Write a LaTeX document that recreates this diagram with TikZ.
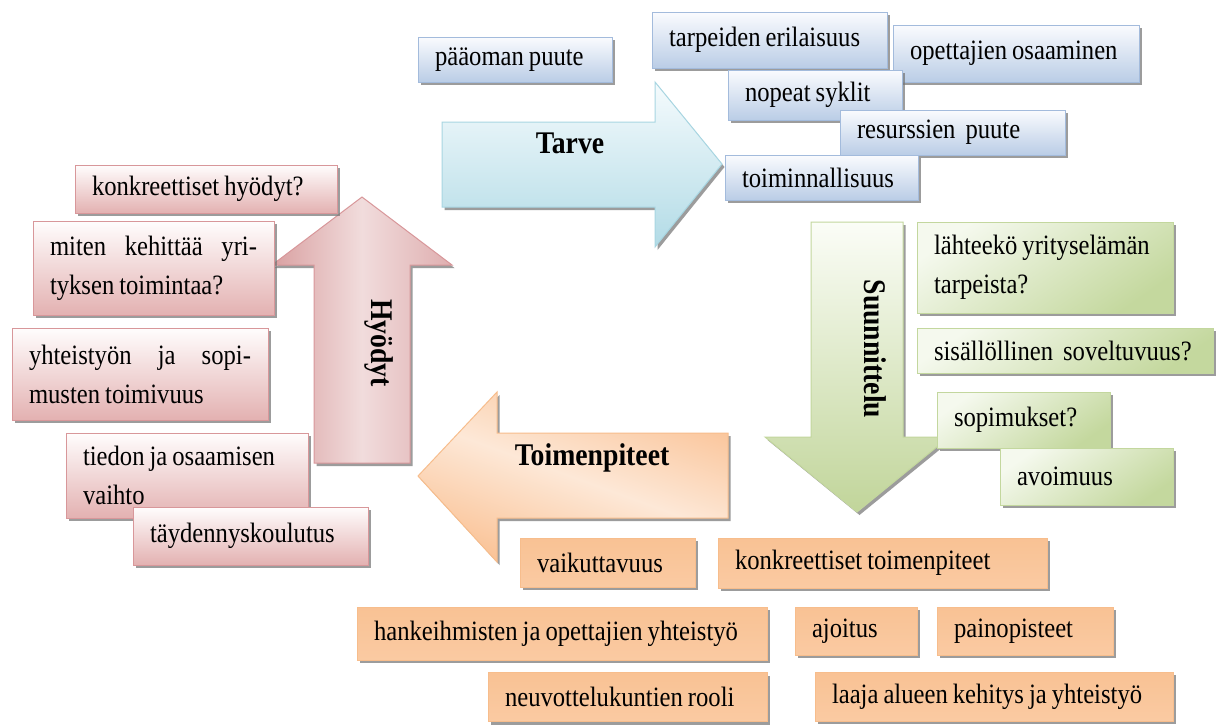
\documentclass[tikz,border=0pt]{standalone}
\usepackage{fontspec}
\setmainfont[FakeStretch=0.88]{Liberation Serif}
\usetikzlibrary{shadows}

% palette
\definecolor{bEdge}{HTML}{A3BBDC}
\definecolor{bHigh}{HTML}{FAFBFE}
\definecolor{bLow}{HTML}{BACDE6}
\definecolor{gEdge}{HTML}{C3D79E}
\definecolor{gHigh}{HTML}{F5F9EE}
\definecolor{gLow}{HTML}{C4D89E}
\definecolor{pEdge}{HTML}{D8979A}
\definecolor{pHigh}{HTML}{FFFDFD}
\definecolor{pLow}{HTML}{E3B1B1}
\definecolor{oEdge}{HTML}{F7BD8C}
\definecolor{oDeep}{HTML}{F9C294}
\definecolor{oLight}{HTML}{FDEADB}
\definecolor{abEdge}{HTML}{A8D6E2}
\definecolor{abHigh}{HTML}{F5FBFD}
\definecolor{abLow}{HTML}{B2DBE6}
\definecolor{agHigh}{HTML}{FBFDF7}
\definecolor{agLow}{HTML}{C1D59A}
\definecolor{apDark}{HTML}{D9A0A1}
\definecolor{apLight}{HTML}{F1DCDC}
\definecolor{aoDeep}{HTML}{FAC397}
\definecolor{aoLight}{HTML}{FDE8D7}

\tikzset{
  every node/.style={font=\fontsize{28}{39}\selectfont},
  boxshadow/.style={drop shadow={shadow xshift=2.5pt, shadow yshift=-3pt,
      fill=black!55, opacity=0.7}},
  cbox/.style={boxshadow, line width=1pt, inner xsep=17pt, inner ysep=2pt,
      align=left,
      % tighter word spacing than the ragged-right default
      execute at begin node={\spaceskip=5pt plus 2pt minus 1pt\relax}},
  bluebox/.style={cbox, draw=bEdge, top color=bHigh, bottom color=bLow},
  greenbox/.style={cbox, draw=gEdge, top color=gHigh, bottom color=gLow,
      shading angle=35},
  pinkbox/.style={cbox, draw=pEdge, top color=pHigh, bottom color=pLow},
  orangebox/.style={cbox, draw=oEdge, top color=oDeep, middle color=oLight,
      bottom color=oDeep!80!oLight},
  arrowbase/.style={boxshadow, line width=1pt},
  heading/.style={font=\fontsize{31.5}{36}\selectfont\bfseries},
}

\begin{document}
\begin{tikzpicture}[x=1pt, y=-1pt]
\useasboundingbox[fill=white] (0,0) rectangle (1220,724);

% --- the four big arrows of the cycle ---
\path[arrowbase, draw=abEdge, top color=abHigh, bottom color=abLow]
  (442,122) -- (655,122) -- (655,82) -- (722,164) -- (655,247)
  -- (655,207) -- (442,207) -- cycle;
\path[arrowbase, draw=gEdge, top color=agHigh, bottom color=agLow]
  (811,222) -- (903,222) -- (903,437) -- (949,437) -- (857,512)
  -- (765,437) -- (811,437) -- cycle;
\path[arrowbase, draw=oEdge, top color=aoDeep, bottom color=aoDeep,
      middle color=aoLight, shading angle=-20]
  (728,433) -- (497,433) -- (497,392) -- (418,476) -- (497,562)
  -- (497,518) -- (728,518) -- cycle;
\path[arrowbase, draw=pEdge, left color=apDark, right color=apDark!85,
      middle color=apLight]
  (314,463) -- (314,265) -- (272,265) -- (362,197) -- (452,265)
  -- (410,265) -- (410,463) -- cycle;

\node[heading] (tarve) at (570,143) {Tarve};
\node[heading] (toimenpiteet) at (592,458) {Toimenpiteet};
\node[heading, rotate=-90] (suunnittelu) at (875,349) {Suunnittelu};
\node[heading, rotate=-90] (hyodyt) at (379,343) {Hyödyt};

% --- needs (blue) ---
\node[bluebox, text width=160pt, minimum height=45pt] (paaoma) at (515,59.5) {pääoman puute};
\node[bluebox, text width=201pt, minimum height=56pt] (tarpeet) at (769.5,40) {tarpeiden erilaisuus};
\node[bluebox, text width=212pt, minimum height=57pt] (osaaminen) at (1016,53.5) {opettajien osaaminen};
\node[bluebox, text width=140pt, minimum height=50pt] (syklit) at (815,95) {nopeat syklit};
\node[bluebox, text width=191pt, minimum height=45pt] (resurssit) at (952.5,132.5) {resurssien\ \ puute};
\node[bluebox, text width=159pt, minimum height=45pt] (toimivuus) at (821.5,177.5) {toiminnallisuus};

% --- planning (green) ---
\node[greenbox, text width=222pt, minimum height=91pt] (lahtee) at (1045,267.5) {lähteekö yrityselämän\\tarpeista?};
\node[greenbox, text width=262pt, minimum height=45pt] (soveltuvuus) at (1065,350.5) {\mbox{sisällöllinen\ \ soveltuvuus?}};
\node[greenbox, text width=139pt, minimum height=56pt] (sopimukset) at (1023.5,420) {sopimukset?};
\node[greenbox, text width=139pt, minimum height=57pt] (avoimuus) at (1086.5,476.5) {avoimuus};

% --- benefits (red) ---
\node[pinkbox, text width=228pt, minimum height=48pt] (konkrhyoty) at (206,189) {konkreettiset hyödyt?};
\node[pinkbox, text width=207pt, minimum height=94pt] (kehittaa) at (153.5,268) {\makebox[\linewidth][s]{miten kehittää yri-}\\tyksen toimintaa?};
\node[pinkbox, text width=222pt, minimum height=92pt] (yhteistyo) at (140,374) {\makebox[\linewidth][s]{yhteistyön ja sopi-}\\musten toimivuus};
\node[pinkbox, text width=208pt, minimum height=85pt] (tieto) at (187,475.5) {tiedon ja osaamisen\\vaihto};
\node[pinkbox, text width=201pt, minimum height=58pt] (koulutus) at (250.5,536) {täydennyskoulutus};

% --- actions (orange) ---
\node[orangebox, text width=141pt, minimum height=49pt] (vaikutus) at (607.5,562.5) {vaikuttavuus};
\node[orangebox, text width=295pt, minimum height=50pt] (konkrtoimi) at (882.5,563) {konkreettiset toimenpiteet};
\node[orangebox, text width=376pt, minimum height=53pt] (hanke) at (562,633.5) {\mbox{hankeihmisten ja opettajien yhteistyö}};
\node[orangebox, text width=88pt, minimum height=48pt] (ajoitus) at (856,631) {ajoitus};
\node[orangebox, text width=142pt, minimum height=48pt] (painopiste) at (1025,631) {painopisteet};
\node[orangebox, text width=245pt, minimum height=49pt] (neuvottelu) at (627.5,697) {\mbox{neuvottelukuntien rooli}};
\node[orangebox, text width=324pt, minimum height=49pt] (laaja) at (994,696.5) {\mbox{laaja alueen kehitys ja yhteistyö}};
\end{tikzpicture}
\end{document}
